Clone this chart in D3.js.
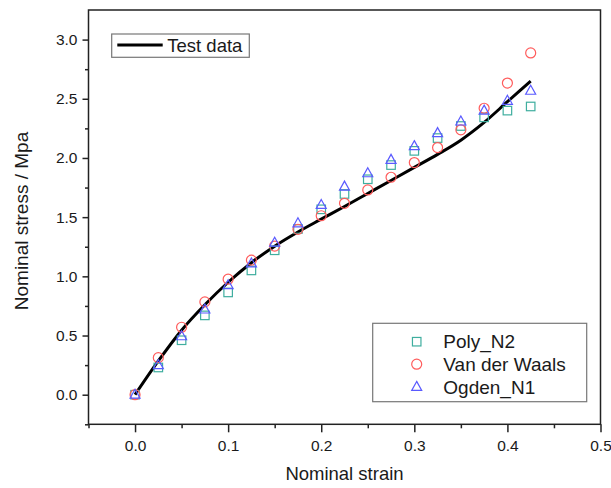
<!DOCTYPE html>
<html>
<head>
<meta charset="utf-8">
<script src="https://cdn.jsdelivr.net/npm/d3@7"></script>
<style>
  html, body { margin: 0; padding: 0; background: #fff; }
  svg { display: block; font-family: "Liberation Sans", Arial, sans-serif; }
</style>
</head>
<body>
<svg id="chart" width="611" height="488"></svg>
<script>
// ---- data ----
const strain = [0, 0.025, 0.05, 0.075, 0.1, 0.125, 0.15, 0.175, 0.2, 0.225, 0.25, 0.275, 0.3, 0.325, 0.35, 0.375, 0.4, 0.425];
const testData = [0, 0.285, 0.545, 0.76, 0.95, 1.115, 1.255, 1.375, 1.483, 1.59, 1.70, 1.81, 1.92, 2.03, 2.15, 2.30, 2.475, 2.65];
const polyN2 = [0, 0.23, 0.46, 0.67, 0.864, 1.05, 1.22, 1.40, 1.566, 1.696, 1.82, 1.94, 2.06, 2.168, 2.27, 2.343, 2.40, 2.435];
const vanDerWaals = [0, 0.313, 0.57, 0.784, 0.976, 1.137, 1.256, 1.397, 1.512, 1.617, 1.73, 1.837, 1.961, 2.088, 2.238, 2.42, 2.633, 2.887];
const ogdenN1 = [0, 0.25, 0.494, 0.72, 0.925, 1.109, 1.284, 1.448, 1.603, 1.758, 1.871, 1.984, 2.10, 2.21, 2.308, 2.40, 2.483, 2.568];
const xMajorTicks = [0, 0.1, 0.2, 0.3, 0.4, 0.5];
const xMinorTicks = [-0.05, 0.05, 0.15, 0.25, 0.35, 0.45];
const yMajorTicks = [0, 0.5, 1.0, 1.5, 2.0, 2.5, 3.0];
const yMinorTicks = [-0.25, 0.25, 0.75, 1.25, 1.75, 2.25, 2.75];
const xLabel = "Nominal strain";
const yLabel = "Nominal stress / Mpa";
const legendLine = "Test data";
const legendSeries = ["Poly_N2", "Van der Waals", "Ogden_N1"];

// ---- layout ----
const L = 88.5, R = 600.5, T = 10, B = 424.3;
const svg = d3.select("#chart");
const x = d3.scaleLinear().domain([-0.05, 0.5]).range([L, R]);
const y = d3.scaleLinear().domain([-0.25, 3.25]).range([B, T]);
const axisColor = "#222";
const colors = { sq: "#3fae9f", ci: "#ff5c5c", tr: "#5a5aff" };

// axes
const gx = svg.append("g").attr("transform", `translate(0,${B})`)
  .call(d3.axisBottom(x).tickValues(xMajorTicks).tickFormat(d3.format(".1f")).tickSize(8).tickPadding(5));
const gxm = svg.append("g").attr("transform", `translate(0,${B})`)
  .call(d3.axisBottom(x).tickValues(xMinorTicks).tickFormat("").tickSize(4));
const gy = svg.append("g").attr("transform", `translate(${L},0)`)
  .call(d3.axisLeft(y).tickValues(yMajorTicks).tickFormat(d3.format(".1f")).tickSize(6).tickPadding(5));
const gym = svg.append("g").attr("transform", `translate(${L},0)`)
  .call(d3.axisLeft(y).tickValues(yMinorTicks).tickFormat("").tickSize(3.5));
[gx, gxm, gy, gym].forEach(g => {
  g.select(".domain").remove();
  g.selectAll("line").attr("stroke", axisColor).attr("stroke-width", 1.5);
  g.selectAll("text").attr("fill", "#1a1a1a").style("font-size", "15.5px")
   .style("font-family", "'Liberation Sans', Arial, sans-serif");
});
gx.selectAll("text").attr("dy", "0.9em");

// frame
svg.append("rect").attr("x", L).attr("y", T).attr("width", R - L).attr("height", B - T)
  .attr("fill", "none").attr("stroke", axisColor).attr("stroke-width", 1.5);

// axis titles
svg.append("text").attr("x", (L + R) / 2).attr("y", 479.5).attr("text-anchor", "middle")
  .attr("fill", "#1a1a1a").style("font-size", "18.5px").text(xLabel);
svg.append("text").attr("transform", `translate(27.5,221) rotate(-90)`).attr("text-anchor", "middle")
  .attr("fill", "#1a1a1a").style("font-size", "19px").text(yLabel);

// test data line
const pts = strain.map((s, i) => [s, testData[i]]);
svg.append("path").datum(pts)
  .attr("d", d3.line().x(d => x(d[0])).y(d => y(d[1])).curve(d3.curveMonotoneX))
  .attr("fill", "none").attr("stroke", "#000").attr("stroke-width", 3);

// markers
const sq = 8.5;
const triPath = "M0,-5.5L5,3.5L-5,3.5Z";
svg.append("g").selectAll("rect").data(strain.map((s, i) => [s, polyN2[i]])).join("rect")
  .attr("x", d => x(d[0]) - sq / 2).attr("y", d => y(d[1]) - sq / 2)
  .attr("width", sq).attr("height", sq)
  .attr("fill", "none").attr("stroke", colors.sq).attr("stroke-width", 1.2);
svg.append("g").selectAll("circle").data(strain.map((s, i) => [s, vanDerWaals[i]])).join("circle")
  .attr("cx", d => x(d[0])).attr("cy", d => y(d[1])).attr("r", 5)
  .attr("fill", "none").attr("stroke", colors.ci).attr("stroke-width", 1.2);
svg.append("g").selectAll("path").data(strain.map((s, i) => [s, ogdenN1[i]])).join("path")
  .attr("transform", d => `translate(${x(d[0])},${y(d[1])})`).attr("d", triPath)
  .attr("fill", "none").attr("stroke", colors.tr).attr("stroke-width", 1.2);

// legend 1
const lg1 = svg.append("g");
lg1.append("rect").attr("x", 111.7).attr("y", 34).attr("width", 137.6).attr("height", 23.3)
  .attr("fill", "#fff").attr("stroke", "#777").attr("stroke-width", 1.2);
lg1.append("line").attr("x1", 117.3).attr("x2", 162.7).attr("y1", 45).attr("y2", 45)
  .attr("stroke", "#000").attr("stroke-width", 3);
lg1.append("text").attr("x", 167.3).attr("y", 52.2).attr("fill", "#1a1a1a")
  .style("font-size", "18.5px").text(legendLine);

// legend 2
const lg2 = svg.append("g");
lg2.append("rect").attr("x", 372.7).attr("y", 323.3).attr("width", 214).attr("height", 78.4)
  .attr("fill", "#fff").attr("stroke", "#777").attr("stroke-width", 1.2);
const rowsY = [341.7, 364.2, 386.9];
const sx = 416.7;
lg2.append("rect").attr("x", sx - sq / 2).attr("y", rowsY[0] - sq / 2).attr("width", sq).attr("height", sq)
  .attr("fill", "none").attr("stroke", colors.sq).attr("stroke-width", 1.2);
lg2.append("circle").attr("cx", sx).attr("cy", rowsY[1]).attr("r", 5)
  .attr("fill", "none").attr("stroke", colors.ci).attr("stroke-width", 1.2);
lg2.append("path").attr("transform", `translate(${sx},${rowsY[2]})`).attr("d", triPath)
  .attr("fill", "none").attr("stroke", colors.tr).attr("stroke-width", 1.2);
legendSeries.forEach((name, i) => {
  lg2.append("text").attr("x", 443.3).attr("y", rowsY[i] + 6.7).attr("fill", "#1a1a1a")
    .style("font-size", "19px").text(name);
});
</script>
</body>
</html>
